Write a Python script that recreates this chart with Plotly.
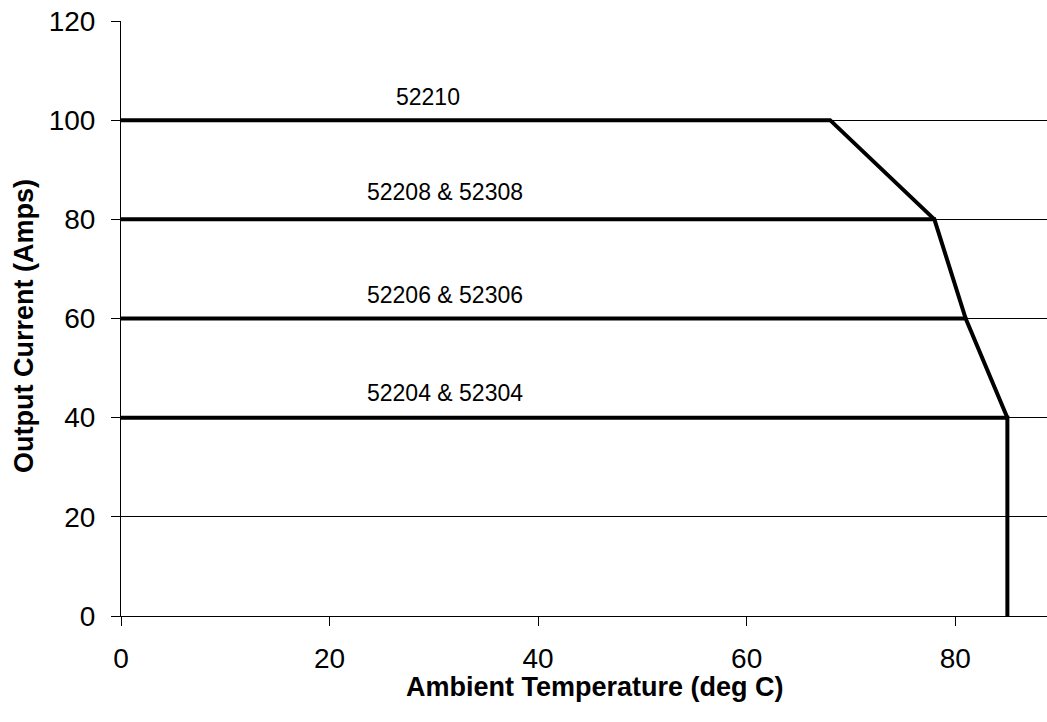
import plotly.graph_objects as go

# Derating curves: ambient temperature (deg C) vs output current (Amps)
series_names = ["52210", "52208 & 52308", "52206 & 52306", "52204 & 52304"]
temp_52210 = [0, 68, 78]
amps_52210 = [100, 100, 80]
temp_52208 = [0, 78, 81]
amps_52208 = [80, 80, 60]
temp_52206 = [0, 81, 85]
amps_52206 = [60, 60, 40]
temp_52204 = [0, 85, 85]
amps_52204 = [40, 40, 0]

# label anchor positions (data units)
label_x = [29.4, 31.1, 31.1, 31.1]
label_y = [104.6, 85.6, 64.7, 44.9]

x_ticks = [0, 20, 40, 60, 80]
y_ticks = [0, 20, 40, 60, 80, 100, 120]

FONT = "Arial, Liberation Sans, sans-serif"

fig = go.Figure()
for tx, ay in [(temp_52210, amps_52210), (temp_52208, amps_52208),
               (temp_52206, amps_52206), (temp_52204, amps_52204)]:
    fig.add_trace(go.Scatter(x=tx, y=ay, mode="lines",
                             line=dict(color="black", width=4),
                             showlegend=False, hoverinfo="skip"))

for name, lx, ly in zip(series_names, label_x, label_y):
    fig.add_annotation(x=lx, y=ly, text=name, showarrow=False,
                       xanchor="center", yanchor="middle",
                       font=dict(family=FONT, size=23, color="black"))

fig.add_annotation(xref="paper", yref="paper", x=0.512, y=-0.120,
                   text="<b>Ambient Temperature (deg C)</b>", showarrow=False,
                   xanchor="center", yanchor="middle",
                   font=dict(family=FONT, size=27, color="black"))
fig.add_annotation(xref="paper", yref="paper", x=-0.104, y=0.487,
                   text="<b>Output Current (Amps)</b>", showarrow=False,
                   textangle=-90, xanchor="center", yanchor="middle",
                   font=dict(family=FONT, size=27, color="black"))

fig.update_xaxes(range=[0, 88.8], tickvals=x_ticks, showgrid=False,
                 zeroline=False, showline=True, linecolor="black", linewidth=1,
                 ticks="outside", ticklen=9, tickcolor="black", tickwidth=1,
                 tickfont=dict(family=FONT, size=28, color="black"),
                 ticklabelstandoff=8, automargin=False)
fig.update_yaxes(range=[0, 120], tickvals=y_ticks, showgrid=True,
                 gridcolor="black", gridwidth=1,
                 zeroline=False, showline=True, linecolor="black", linewidth=1,
                 ticks="outside", ticklen=9, tickcolor="black", tickwidth=1,
                 tickfont=dict(family=FONT, size=28, color="black"),
                 ticklabelstandoff=10, automargin=False)

fig.update_layout(width=1047, height=722,
                  margin=dict(l=121, r=0, t=21, b=106),
                  paper_bgcolor="white", plot_bgcolor="white",
                  font=dict(family=FONT, color="black"))

fig.write_html("out.html", config={"displayModeBar": False},
               post_script="document.body.style.margin='0';document.body.style.overflow='hidden';")
